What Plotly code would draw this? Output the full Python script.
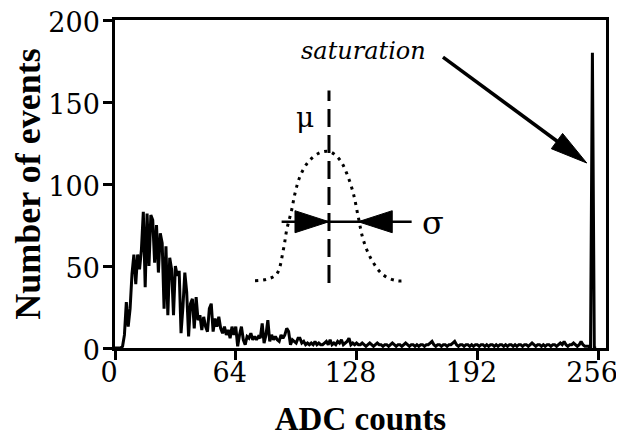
import math
import plotly.graph_objects as go

# ---------------- data ----------------
adc = list(range(256))
counts = [
    0, 0, 0, 0, 1, 8, 28, 13, 24, 45, 57, 39, 57, 48, 60, 83,
    37, 82, 50, 81, 78, 52, 75, 46, 70, 64, 24, 62, 20, 55, 48, 20,
    50, 44, 47, 9, 25, 46, 34, 7, 27, 30, 12, 31, 17, 20, 11, 19,
    13, 10, 24, 27, 10, 18, 13, 19, 12, 9, 13, 8, 11, 6, 13, 8,
    13, 1, 8, 13, 5, 2, 7, 6, 9, 5, 7, 5, 7, 6, 15, 3,
    8, 17, 4, 8, 5, 7, 5, 4, 8, 6, 8, 12, 10, 2, 5, 4,
    3, 6, 6, 3, 4, 2, 3, 2, 3, 2, 4, 2, 3, 2, 2, 3,
    4, 2, 5, 2, 3, 2, 4, 3, 5, 2, 3, 4, 6, 2, 3, 2,
    3, 2, 2, 3, 2, 1, 2, 3, 2, 1, 2, 3, 2, 2, 1, 2,
    2, 1, 2, 3, 2, 1, 2, 2, 1, 2, 3, 2, 1, 2, 2, 1,
    2, 1, 2, 2, 1, 2, 2, 3, 4, 2, 1, 2, 2, 1, 2, 2,
    1, 2, 2, 3, 4, 2, 1, 2, 2, 1, 2, 2, 1, 2, 1, 2,
    2, 1, 2, 2, 1, 2, 1, 2, 2, 1, 2, 1, 2, 2, 1, 2,
    1, 2, 2, 1, 2, 1, 2, 2, 1, 2, 2, 1, 2, 3, 2, 1,
    2, 2, 1, 2, 1, 2, 2, 1, 2, 2, 1, 2, 3, 2, 4, 2,
    1, 2, 2, 3, 2, 1, 2, 4, 2, 1, 1, 1, 0, 180, 0, 0,
]

# illustrative gaussian
gauss_x = [74.2, 80.4, 85.7, 89.2, 91.0, 93.6, 95.4, 98.0, 102.5, 108.6, 113.9,
           119.2, 122.8, 126.3, 128.9, 131.6, 136.0, 142.2, 149.3, 153.7]
gauss_y = [41.0, 41.9, 45.1, 59.8, 72.0, 84.1, 94.3, 104.5, 113.6, 119.1, 119.7,
           114.6, 106.5, 94.3, 80.0, 65.9, 53.7, 44.5, 41.0, 41.0]

x_ticks = [0, 64, 128, 192, 256]
y_ticks = [0, 50, 100, 150, 200]

mu = 113.4
mu_line_y = [39.6, 157.0]
sigma_level = 77.0
sigma_line_x = [88.3, 157.2]
sigma_right = 128.9
sat_start = (173.8, 177.4)
sat_tip = (250.0, 112.8)
sat_label = (131.9, 181.0)
mu_label = (100.7, 140.4)
sigma_label = (168.5, 76.2)

# ---------------- layout geometry ----------------
# the page body has an 8px margin, so the figure is drawn 8px in from the corner
W, H = 616, 433
ML, MR, MT, MB = 107, 18, 12, 93
XR = [0, 260.2]
YR = [0, 200]
pxx = (W - ML - MR) / (XR[1] - XR[0])
pxy = (H - MT - MB) / (YR[1] - YR[0])

FONT_B = "Liberation Serif"   # bold titles
FONT_R = "DejaVu Serif"       # regular / italic texts

fig = go.Figure()
fig.add_trace(go.Scatter(x=adc, y=counts, mode="lines",
                         line=dict(color="black", width=3),
                         hoverinfo="skip", showlegend=False))
fig.add_trace(go.Scatter(x=gauss_x, y=gauss_y, mode="lines",
                         line=dict(color="black", width=3, dash="3px,5px", shape="spline"),
                         hoverinfo="skip", showlegend=False))

shapes = []
shapes.append(dict(type="line", xref="x", yref="y", x0=mu, x1=mu,
                   y0=mu_line_y[0], y1=mu_line_y[1],
                   line=dict(color="black", width=3, dash="18px,8px")))
shapes.append(dict(type="line", xref="x", yref="y", x0=sigma_line_x[0], x1=sigma_line_x[1],
                   y0=sigma_level, y1=sigma_level,
                   line=dict(color="black", width=2.5)))


def head(xa, ya, ux, uy, L, Wd):
    bx, by = -L * ux, -L * uy
    nx, ny = -uy, ux
    p1 = (bx + Wd * nx, by + Wd * ny)
    p2 = (bx - Wd * nx, by - Wd * ny)
    path = "M0,0 L{:.2f},{:.2f} L{:.2f},{:.2f} Z".format(p1[0], -p1[1], p2[0], -p2[1])
    return dict(type="path", xref="x", yref="y", xsizemode="pixel", ysizemode="pixel",
                xanchor=xa, yanchor=ya, path=path, fillcolor="black",
                line=dict(color="black", width=1))


shapes.append(head(mu, sigma_level, 1, 0, 34, 11))
shapes.append(head(sigma_right, sigma_level, -1, 0, 34, 11))

dxp = (sat_tip[0] - sat_start[0]) * pxx
dyp = -(sat_tip[1] - sat_start[1]) * pxy
n = math.hypot(dxp, dyp)
ux, uy = dxp / n, dyp / n
HL, HW = 37, 9.5
base_x = sat_tip[0] - (HL - 2) * ux / pxx
base_y = sat_tip[1] + (HL - 2) * uy / pxy
shapes.append(dict(type="line", xref="x", yref="y", x0=sat_start[0], y0=sat_start[1],
                   x1=base_x, y1=base_y, line=dict(color="black", width=3.5)))
shapes.append(head(sat_tip[0], sat_tip[1], ux, uy, HL, HW))

annotations = [
    dict(x=sat_label[0], y=sat_label[1], xref="x", yref="y", text="<i>saturation</i>",
         showarrow=False, font=dict(family=FONT_R, size=24, color="black")),
    dict(x=mu_label[0], y=mu_label[1], xref="x", yref="y", text="μ",
         showarrow=False, font=dict(family=FONT_R, size=28, color="black")),
    dict(x=sigma_label[0], y=sigma_label[1], xref="x", yref="y", text="σ",
         showarrow=False, font=dict(family=FONT_R, size=32, color="black")),
]

axis_common = dict(showgrid=False, zeroline=False, showline=True, linecolor="black",
                   linewidth=2.5, mirror=True, ticks="outside", ticklen=9,
                   tickwidth=2.5, tickcolor="black", automargin=False,
                   ticklabeloverflow="allow",
                   tickfont=dict(family=FONT_R, size=27, color="black"))

fig.update_layout(
    width=W, height=H,
    margin=dict(l=ML, r=MR, t=MT, b=MB, pad=0),
    paper_bgcolor="white", plot_bgcolor="white",
    font=dict(family=FONT_R, color="black"),
    shapes=shapes, annotations=annotations,
    xaxis=dict(range=XR, tickvals=x_ticks, ticktext=[str(v) for v in x_ticks],
               ticklabelshift=-6, ticklabelstandoff=-10,
               title=dict(text="<b>ADC counts</b>", standoff=20,
                          font=dict(family=FONT_B, size=33, color="black")),
               **axis_common),
    yaxis=dict(range=YR, tickvals=y_ticks, ticktext=[str(v) for v in y_ticks],
               ticklabelstandoff=-2, ticklabelshift=3,
               title=dict(text="<b>Number of events</b>", standoff=30,
                          font=dict(family=FONT_B, size=36, color="black")),
               **axis_common),
)

fig.write_html("out.html")
